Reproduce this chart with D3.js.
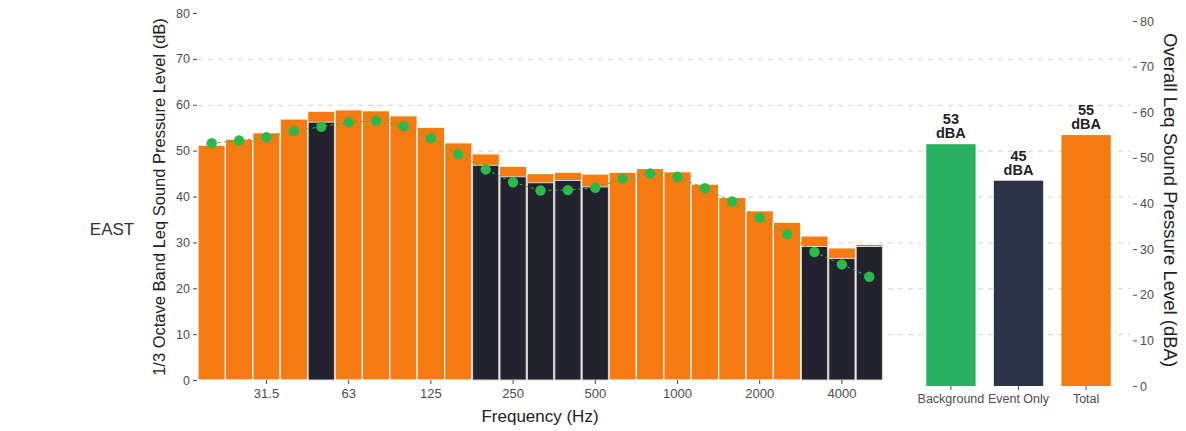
<!DOCTYPE html>
<html>
<head>
<meta charset="utf-8">
<script src="https://cdnjs.cloudflare.com/ajax/libs/d3/7.8.5/d3.min.js"></script>
<style>
  body { margin: 0; background: #fff; }
  text { font-family: "Liberation Sans", Arial, sans-serif; }
</style>
</head>
<body>
<div id="chart"></div>
<script>
// 1/3 octave bands
const bands = ["20","25","31.5","40","50","63","80","100","125","160","200","250","315","400","500",
               "630","800","1000","1250","1600","2000","2500","3150","4000","5000"];
const bandTicks = ["31.5","63","125","250","500","1000","2000","4000"];
const totalLevel = [51.2,52.5,53.9,56.9,58.6,58.9,58.7,57.6,55.1,51.7,49.3,46.6,45.0,45.3,44.9,
                    45.3,46.1,45.4,42.7,39.8,36.9,34.4,31.4,28.8,29.6];
// event-only level, only shown where it dominates
const eventLevel = [null,null,null,null,56.2,null,null,null,null,null,46.8,44.3,43.0,43.5,42.1,
                    null,null,null,null,null,null,null,29.1,26.5,29.1];
const backgroundLevel = [51.6,52.2,52.9,54.3,55.2,56.2,56.5,55.3,52.7,49.2,45.9,43.1,41.3,41.4,41.9,
                         43.9,45.0,44.3,41.8,38.9,35.4,31.8,27.9,25.2,22.5];

const overallCats = ["Background","Event Only","Total"];
const overallLevel = [53, 45, 55];
const yTicks = [0,10,20,30,40,50,60,70,80];

const orange = "#f57b12", dark = "#23222f", green = "#2db84a";
const overallColors = ["#29b062", "#2c3447", "#f57b12"];

const W = 1186, H = 431;
const svg = d3.select("#chart").append("svg")
    .attr("width", W).attr("height", H);

const x = d3.scaleBand().domain(bands).range([198, 883]).padding(0);
const y = d3.scaleLinear().domain([0, 80]).range([380, 13]);
const x2 = d3.scaleBand().domain(overallCats).range([908, 1129]).padding(0.27);
const y2 = d3.scaleLinear().domain([0, 80]).range([386, 21]);

// grid
svg.append("g").selectAll("line")
  .data(yTicks.filter(d => d > 0 && d < 80))
  .enter().append("line")
    .attr("x1", 198).attr("x2", 1130)
    .attr("y1", d => y(d) + 0.5).attr("y2", d => y(d) + 0.5)
    .attr("stroke", "#d4d4d4").attr("stroke-dasharray", "5,5");

// total bars
svg.append("g").selectAll("rect")
  .data(totalLevel)
  .enter().append("rect")
    .attr("x", (d, i) => x(bands[i]))
    .attr("y", d => y(d))
    .attr("width", x.bandwidth())
    .attr("height", d => y(0) - y(d))
    .attr("fill", orange)
    .attr("stroke", "#fff").attr("stroke-width", 1.2);

// event-only bars
svg.append("g").selectAll("rect")
  .data(eventLevel.map((v, i) => ({ v, b: bands[i] })).filter(d => d.v !== null))
  .enter().append("rect")
    .attr("x", d => x(d.b) + 0.6)
    .attr("y", d => y(d.v))
    .attr("width", x.bandwidth() - 1.2)
    .attr("height", d => y(0) - y(d.v))
    .attr("fill", dark)
    .attr("stroke", "#d8d8d8").attr("stroke-width", 1);

// background line + dots
const line = d3.line()
    .x((d, i) => x(bands[i]) + x.bandwidth() / 2)
    .y(d => y(d));
svg.append("path")
    .datum(backgroundLevel)
    .attr("d", line)
    .attr("fill", "none")
    .attr("stroke", green).attr("stroke-width", 1)
    .attr("stroke-dasharray", "3,3");
svg.append("g").selectAll("circle")
  .data(backgroundLevel)
  .enter().append("circle")
    .attr("cx", (d, i) => x(bands[i]) + x.bandwidth() / 2)
    .attr("cy", d => y(d))
    .attr("r", 5.2)
    .attr("fill", green);

// left axis
const yAxis = svg.append("g")
    .attr("transform", "translate(197,0)")
    .call(d3.axisLeft(y).tickValues(yTicks).tickSize(4).tickPadding(3));
yAxis.select(".domain").remove();
yAxis.selectAll("line").attr("stroke", "#4d4d4d");
yAxis.selectAll("text").attr("fill", "#4d4d4d").style("font-size", "12.5px");

// bottom axis
const xAxis = svg.append("g")
    .attr("transform", "translate(0,380)")
    .call(d3.axisBottom(x).tickValues(bandTicks).tickSize(4).tickPadding(5));
xAxis.select(".domain").remove();
xAxis.selectAll("line").attr("stroke", "#4d4d4d");
xAxis.selectAll("text").attr("fill", "#4d4d4d").style("font-size", "13px");

svg.append("text")
    .attr("x", 540).attr("y", 422)
    .attr("text-anchor", "middle")
    .style("font-size", "17px").attr("fill", "#222")
    .text("Frequency (Hz)");

svg.append("text")
    .attr("transform", "translate(165,197) rotate(-90)")
    .attr("text-anchor", "middle")
    .style("font-size", "16.5px").attr("fill", "#222")
    .text("1/3 Octave Band Leq Sound Pressure Level (dB)");

// overall panel
svg.append("g").selectAll("rect")
  .data(overallLevel)
  .enter().append("rect")
    .attr("x", (d, i) => x2(overallCats[i]))
    .attr("y", d => y2(d))
    .attr("width", x2.bandwidth())
    .attr("height", d => y2(0) - y2(d))
    .attr("fill", (d, i) => overallColors[i]);

// two-line value labels as separate texts
const lblG = svg.append("g");
overallLevel.forEach((d, i) => {
  const cx = x2(overallCats[i]) + x2.bandwidth() / 2;
  lblG.append("text")
      .attr("x", cx).attr("y", y2(d) - 20)
      .attr("text-anchor", "middle")
      .style("font-size", "14.5px").style("font-weight", "bold").attr("fill", "#222")
      .text(d);
  lblG.append("text")
      .attr("x", cx).attr("y", y2(d) - 6)
      .attr("text-anchor", "middle")
      .style("font-size", "14.5px").style("font-weight", "bold").attr("fill", "#222")
      .text("dBA");
});

const x2Axis = svg.append("g")
    .attr("transform", "translate(0,386)")
    .call(d3.axisBottom(x2).tickSize(4).tickPadding(4));
x2Axis.select(".domain").remove();
x2Axis.selectAll("line").attr("stroke", "#4d4d4d");
x2Axis.selectAll("text").attr("fill", "#4d4d4d").style("font-size", "12.5px");

const y2Axis = svg.append("g")
    .attr("transform", "translate(1133,0)")
    .call(d3.axisRight(y2).tickValues(yTicks).tickSize(4).tickPadding(3));
y2Axis.select(".domain").remove();
y2Axis.selectAll("line").attr("stroke", "#4d4d4d");
y2Axis.selectAll("text").attr("fill", "#4d4d4d").style("font-size", "12.5px");

svg.append("text")
    .attr("transform", "translate(1164,200) rotate(90)")
    .attr("text-anchor", "middle")
    .style("font-size", "18.5px").attr("fill", "#222")
    .text("Overall Leq Sound Pressure Level (dBA)");

svg.append("text")
    .attr("x", 112).attr("y", 235)
    .attr("text-anchor", "middle")
    .style("font-size", "17px").attr("fill", "#333")
    .text("EAST");
</script>
</body>
</html>
